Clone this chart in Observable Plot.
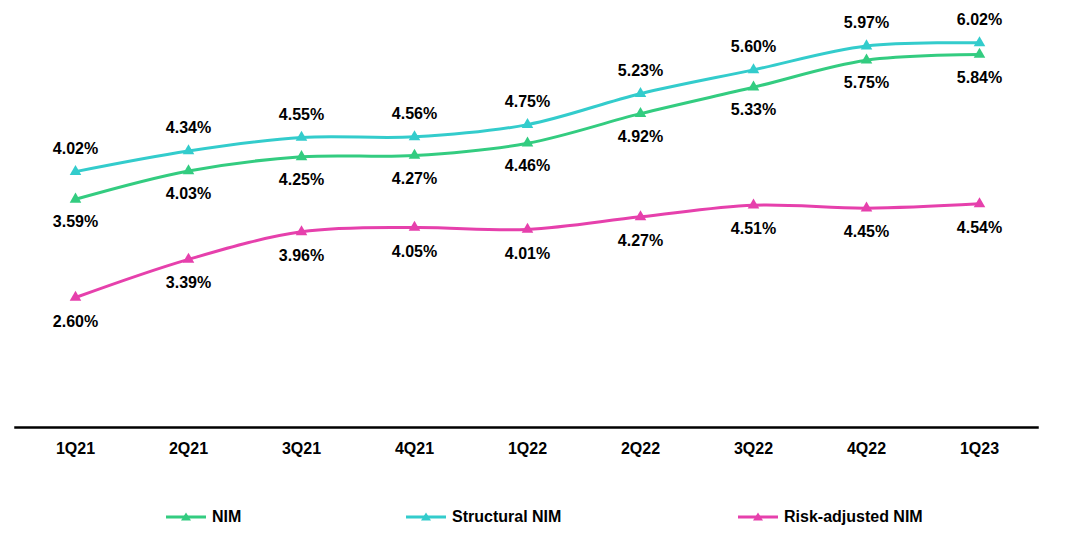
<!DOCTYPE html>
<html>
<head>
<meta charset="utf-8">
<script src="https://cdn.jsdelivr.net/npm/d3@7"></script>
<script src="https://cdn.jsdelivr.net/npm/@observablehq/plot@0.6"></script>
<style>
  html, body { margin: 0; padding: 0; background: #fff; }
  body { width: 1084px; height: 557px; position: relative; overflow: hidden; font-family: "Liberation Sans", Arial, sans-serif; }
  #legend { position: absolute; left: 0; top: 507px; width: 1084px; height: 20px; }
  .item { position: absolute; top: 0; display: flex; align-items: center; height: 20px; font-weight: bold; font-size: 16px; color: #000; }
  .item span { margin-left: 6px; }
</style>
</head>
<body>
<div id="chart"></div>
<div id="legend"></div>
<script>
const quarters = ["1Q21", "2Q21", "3Q21", "4Q21", "1Q22", "2Q22", "3Q22", "4Q22", "1Q23"];
const nim = [3.59, 4.03, 4.25, 4.27, 4.46, 4.92, 5.33, 5.75, 5.84];
const structuralNim = [4.02, 4.34, 4.55, 4.56, 4.75, 5.23, 5.60, 5.97, 6.02];
const riskAdjustedNim = [2.60, 3.39, 3.96, 4.05, 4.01, 4.27, 4.51, 4.45, 4.54];

const seriesNames = ["NIM", "Structural NIM", "Risk-adjusted NIM"];
const colors = ["#33CC80", "#33CCCC", "#E640AC"];

// primary axis (NIM, Structural NIM) and secondary axis (Risk-adjusted NIM)
const yPrimaryPx = d3.scaleLinear([0, 7], [430, -20.8]);
const ySecondaryPx = d3.scaleLinear([0, 9], [422.6, 422.6 - 9 * 48.3]);
const toPrimary = v => yPrimaryPx.invert(ySecondaryPx(v));

const data = [];
quarters.forEach((q, i) => {
  data.push({q, series: seriesNames[0], value: nim[i], y: nim[i], dy: 23});
  data.push({q, series: seriesNames[1], value: structuralNim[i], y: structuralNim[i], dy: -23});
  data.push({q, series: seriesNames[2], value: riskAdjustedNim[i], y: toPrimary(riskAdjustedNim[i]), dy: 24});
});

const W = 1084, H = 490;
const colorScale = {domain: seriesNames, range: colors};

const marks = [
  Plot.frame({anchor: "bottom", stroke: "#000", strokeWidth: 2.5}),
  Plot.axisX({tickSize: 0, tickPadding: 15, fontSize: 16, fontWeight: "bold"}),
  Plot.line(data, {x: "q", y: "y", z: "series", stroke: "series", strokeWidth: 3, curve: "catmull-rom"}),
  Plot.dot(data, {x: "q", y: "y", fill: "series", stroke: "none", symbol: "triangle", r: 4.3})
];
for (const dyv of [23, -23, 24]) {
  marks.push(Plot.text(data.filter(d => d.dy === dyv), {
    x: "q", y: "y", text: d => d.value.toFixed(2) + "%", dy: dyv,
    fill: "#000", fontSize: 16, fontWeight: "bold"
  }));
}

const chart = Plot.plot({
  width: W,
  height: H,
  marginLeft: 15,
  marginRight: 47,
  marginTop: 0,
  marginBottom: H - 427,
  style: {fontFamily: "'Liberation Sans', Arial, sans-serif", fontSize: "16px", fontWeight: "bold", color: "#000", background: "#fff", overflow: "visible"},
  x: {type: "point", domain: quarters, range: [72, 981], padding: 0, label: null},
  y: {domain: [0, 7], range: [430, -20.8], axis: null},
  color: colorScale,
  marks
});
document.getElementById("chart").appendChild(chart);

// legend
const legend = document.getElementById("legend");
const lefts = [166, 406, 738];
seriesNames.forEach((name, i) => {
  const item = document.createElement("div");
  item.className = "item";
  item.style.left = lefts[i] + "px";
  item.innerHTML = `<svg width="40" height="12" viewBox="0 0 40 12"><line x1="0" y1="6" x2="40" y2="6" stroke="${colors[i]}" stroke-width="3"/><path d="M20,1.5 L25,9.5 L15,9.5 Z" fill="${colors[i]}"/></svg><span>${name}</span>`;
  legend.appendChild(item);
});
</script>
</body>
</html>
